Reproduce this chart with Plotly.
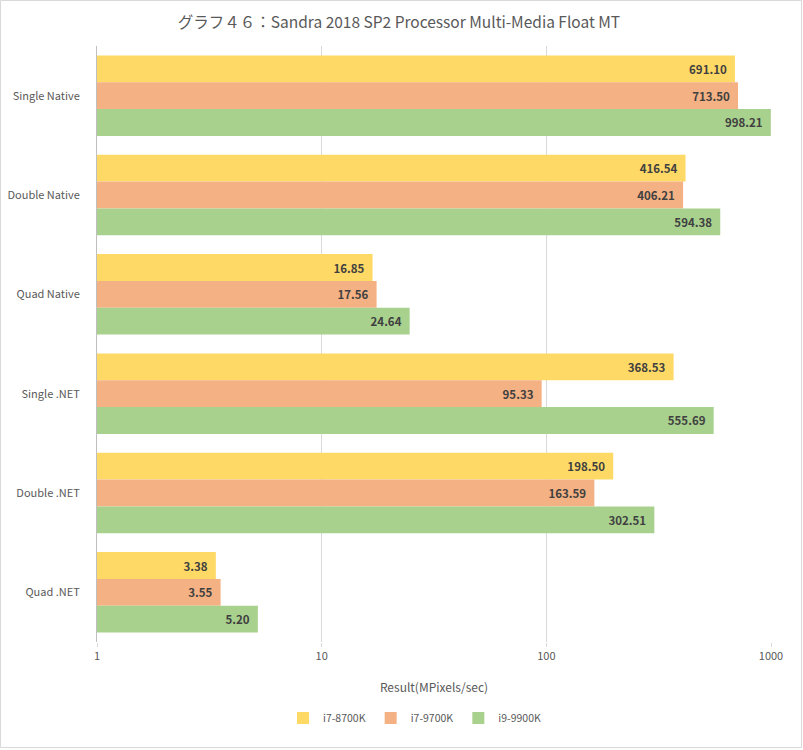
import plotly.graph_objects as go

categories = ["Single Native", "Double Native", "Quad Native", "Single .NET", "Double .NET", "Quad .NET"]
series_names = ["i7-8700K", "i7-9700K", "i9-9900K"]
i7_8700k = [691.10, 416.54, 16.85, 368.53, 198.50, 3.38]
i7_9700k = [713.50, 406.21, 17.56, 95.33, 163.59, 3.55]
i9_9900k = [998.21, 594.38, 24.64, 555.69, 302.51, 5.20]
colors = ["#FFD966", "#F4B183", "#A9D18E"]
x_ticks = [1, 10, 100, 1000]

FONT = "Noto Sans CJK JP, Noto Sans, sans-serif"

fig = go.Figure()
for name, vals, col in zip(series_names, [i7_8700k, i7_9700k, i9_9900k], colors):
    fig.add_trace(go.Bar(
        y=categories, x=vals, name=name, orientation="h",
        marker=dict(color=col, line=dict(width=0)),
        text=[f"{v:.2f}\u00a0\u00a0" for v in vals],
        textposition="inside", insidetextanchor="end",
        constraintext="none",
        textfont=dict(family=FONT, size=11.5, color="#404040", weight="bold"),
        hoverinfo="x+name",
    ))

L, R, T, B = 97, 771, 46, 642
W, H = 803, 750
pw, ph = R - L, B - T

fig.update_layout(
    width=W, height=H, autosize=False,
    margin=dict(l=L, r=W - R, t=T, b=H - B, pad=0, autoexpand=False),
    paper_bgcolor="white", plot_bgcolor="white",
    barmode="group", bargap=0.19, bargroupgap=0,
    font=dict(family=FONT, size=11, color="#595959"),
    title=dict(text="グラフ４６：Sandra 2018 SP2 Processor Multi-Media Float MT",
               x=399 / W, xanchor="center", y=1 - 23 / H, yanchor="middle",
               font=dict(family=FONT, size=15.5, color="#595959")),
    xaxis=dict(type="log", range=[0, 3], tickvals=x_ticks, ticktext=[str(v) for v in x_ticks],
               showgrid=True, gridcolor="#D9D9D9", gridwidth=1,
               zeroline=False, showline=False, automargin=False,
               ticks="outside", ticklen=4, tickcolor="#D9D9D9",
               tickfont=dict(size=11, color="#595959"),
               title=dict(text="Result(MPixels/sec)", font=dict(size=12, color="#595959"), standoff=21)),
    yaxis=dict(autorange="reversed", showgrid=False, zeroline=False, automargin=False,
               showline=True, linecolor="#BFBFBF", linewidth=1,
               ticks="", ticklabelstandoff=14,
               tickfont=dict(size=11, color="#595959")),
    legend=dict(orientation="h", x=(415 - L) / pw, xanchor="center",
                y=(B - 718) / ph, yanchor="middle",
                font=dict(size=10.5, color="#595959"),
                itemwidth=30,
                traceorder="normal", itemclick=False),
    showlegend=True,
)

# light border around the whole chart
fig.add_shape(type="rect", xref="paper", yref="paper",
              x0=(0.5 - L) / pw, x1=(W - 1.5 - L) / pw,
              y0=(B - (H - 2.5)) / ph, y1=(B - 0.5) / ph,
              line=dict(color="#D9D9D9", width=1), fillcolor="rgba(0,0,0,0)", layer="above")

fig.write_html("out.html")
